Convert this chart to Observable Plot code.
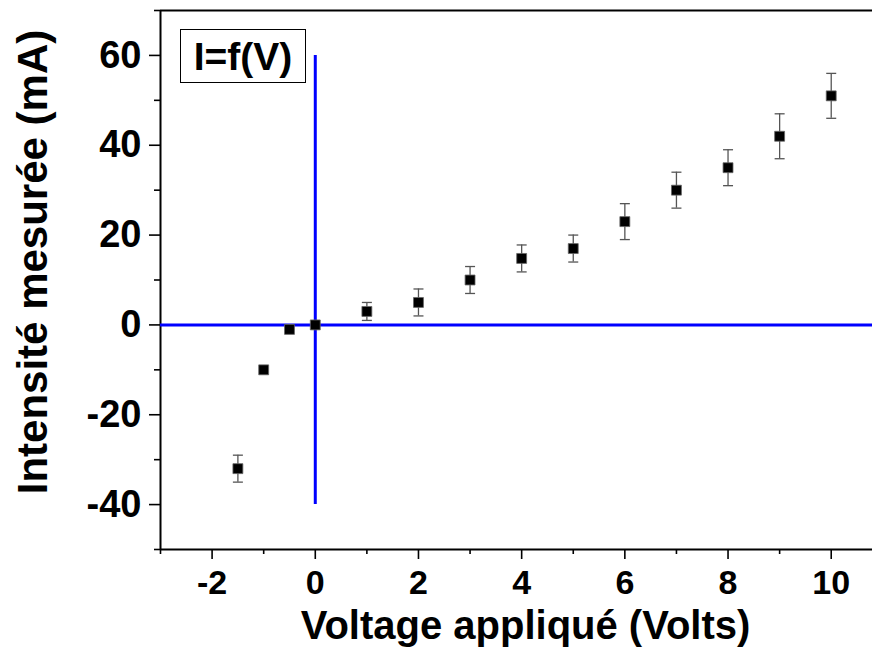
<!DOCTYPE html>
<html>
<head>
<meta charset="utf-8">
<script src="https://cdn.jsdelivr.net/npm/d3@7"></script>
<script src="https://cdn.jsdelivr.net/npm/@observablehq/plot@0.6"></script>
<style>
  html, body { margin: 0; padding: 0; background: #fff; }
  #wrap { position: relative; width: 872px; height: 648px; overflow: hidden; }
  #legend {
    position: absolute; left: 180px; top: 29px; width: 124px; height: 52px;
    border: 1.5px solid #000; background: #fff;
    font-family: "Liberation Sans", Arial, sans-serif; font-weight: bold; font-size: 39px;
    display: flex; align-items: center; justify-content: center; line-height: 1;
  }
</style>
</head>
<body>
<div id="wrap"><div id="legend">I=f(V)</div></div>
<script>
// Data
const voltage = [-1.5, -1, -0.5, 0, 1, 2, 3, 4, 5, 6, 7, 8, 9, 10];
const current = [-32, -10, -1, 0, 3, 5, 10, 14.8, 17, 23, 30, 35, 42, 51];
const errorBar = [3, 0, 0, 0, 2, 3, 3, 3, 3, 4, 4, 4, 5, 5];

const xDomain = [-3, 10.8];
const yDomain = [-50, 70];
const xMajorTicks = [-2, 0, 2, 4, 6, 8, 10];
const xMinorTicks = [-3, -1, 1, 3, 5, 7, 9];
const yMajorTicks = [-40, -20, 0, 20, 40, 60];
const yMinorTicks = [-50, -30, -10, 10, 30, 50, 70];

const hLine = [0];                 // horizontal reference at I = 0
const vLine = [{x: 0, y1: -40, y2: 60}]; // vertical reference at V = 0

const xTitle = "Voltage appliqué (Volts)";
const yTitle = "Intensité mesurée (mA)";

const data = voltage.map((v, i) => ({x: v, y: current[i], e: errorBar[i]}));
const withErr = data.filter(d => d.e > 0);

const capSymbol = {
  draw(context) { context.moveTo(-5, 0); context.lineTo(5, 0); }
};

const fmt = d => `${d}`;

const chart = Plot.plot({
  width: 872,
  height: 648,
  marginLeft: 160,
  marginRight: 0,
  marginTop: 10,
  marginBottom: 99,
  style: {fontFamily: "'Liberation Sans', Arial, sans-serif", fontWeight: "bold", color: "#000", background: "#fff"},
  x: {domain: xDomain},
  y: {domain: yDomain},
  marks: [
    // axis frame lines
    Plot.ruleX([xDomain[0]], {stroke: "#000", strokeWidth: 2}),
    Plot.ruleY([yDomain[0], yDomain[1]], {stroke: "#000", strokeWidth: 2}),
    // ticks and labels
    Plot.axisX({ticks: xMajorTicks, tickSize: 10, tickPadding: 10, fontSize: 34, tickFormat: fmt, label: null, strokeWidth: 1.6}),
    Plot.axisX({ticks: xMinorTicks, tickSize: 5, tickFormat: () => "", label: null, strokeWidth: 1.6}),
    Plot.axisY({ticks: yMajorTicks, tickSize: 11, tickPadding: 8, fontSize: 38, tickFormat: fmt, label: null, strokeWidth: 1.6}),
    Plot.axisY({ticks: yMinorTicks, tickSize: 6, tickFormat: () => "", label: null, strokeWidth: 1.6}),
    // reference lines
    Plot.ruleY(hLine, {stroke: "#0000ff", strokeWidth: 3}),
    Plot.ruleX(vLine, {x: "x", y1: "y1", y2: "y2", stroke: "#0000ff", strokeWidth: 3}),
    // error bars
    Plot.ruleX(withErr, {x: "x", y1: d => d.y - d.e, y2: d => d.y + d.e, stroke: "#555", strokeWidth: 1.3}),
    Plot.dot(withErr, {x: "x", y: d => d.y - d.e, symbol: capSymbol, stroke: "#555", strokeWidth: 1.3, fill: "none"}),
    Plot.dot(withErr, {x: "x", y: d => d.y + d.e, symbol: capSymbol, stroke: "#555", strokeWidth: 1.3, fill: "none"}),
    // markers
    Plot.dot(data, {x: "x", y: "y", symbol: "square", r: 5.6, fill: "#000", stroke: "#666", strokeWidth: 0.8}),
    // axis titles
    Plot.text([xTitle], {frameAnchor: "bottom", textAnchor: "middle", dx: 9, dy: 77, fontSize: 40, lineAnchor: "middle", fill: "#000"}),
    Plot.text([yTitle], {frameAnchor: "left", textAnchor: "middle", dx: -127, dy: -18, rotate: -90, fontSize: 42, lineAnchor: "middle", fill: "#000"})
  ]
});
document.getElementById("wrap").prepend(chart);
</script>
</body>
</html>
